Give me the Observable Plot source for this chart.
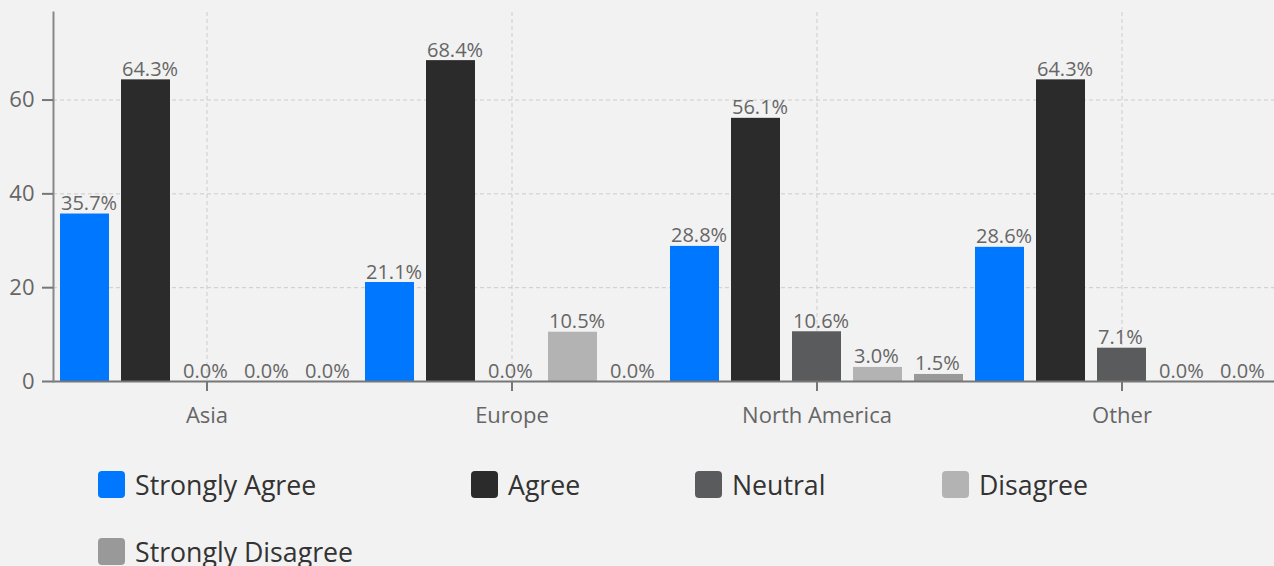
<!DOCTYPE html>
<html>
<head>
<meta charset="utf-8">
<script src="https://cdn.jsdelivr.net/npm/d3@7"></script>
<script src="https://cdn.jsdelivr.net/npm/@observablehq/plot@0.6"></script>
<style>
  html, body { margin: 0; padding: 0; background: #f2f2f2; font-family: "Open Sans", sans-serif; }
  #chart svg { display: block; }
  .legend { display: flex; flex-wrap: wrap; padding: 26px 0 0 98px; row-gap: 31px; box-sizing: border-box; width: 1274px; }
  .legend-item { display: flex; align-items: center; height: 36px; font-size: 26.7px; color: #333; }
  .legend-swatch { width: 27px; height: 27px; border-radius: 4px; margin-right: 10px; flex: none; }
</style>
</head>
<body>
<div id="chart"></div>
<div id="legend" class="legend"></div>
<script>
const regions = ["Asia", "Europe", "North America", "Other"];
const categories = ["Strongly Agree", "Agree", "Neutral", "Disagree", "Strongly Disagree"];
const stronglyAgree = [35.7, 21.1, 28.8, 28.6];
const agree = [64.3, 68.4, 56.1, 64.3];
const neutral = [0.0, 0.0, 10.6, 7.1];
const disagree = [0.0, 10.5, 3.0, 0.0];
const stronglyDisagree = [0.0, 0.0, 1.5, 0.0];
const yTicks = [0, 20, 40, 60];
const colors = ["#0077ff", "#2b2b2b", "#5a5b5d", "#b3b3b3", "#999999"];

const series = [stronglyAgree, agree, neutral, disagree, stronglyDisagree];
const key = (r, c) => r + "|" + c;
const data = [];
regions.forEach((r, i) => {
  categories.forEach((c, j) => {
    data.push({region: r, category: c, key: key(r, c), value: series[j][i]});
  });
});
const keys = data.map(d => d.key);
const centerKeys = regions.map(r => key(r, categories[2]));
const yMax = d3.max(data, d => d.value) * 1.15;

const chart = Plot.plot({
  width: 1274,
  height: 440,
  marginLeft: 53,
  marginRight: 0,
  marginTop: 12,
  marginBottom: 59,
  style: {background: "#f2f2f2", fontFamily: "Open Sans, sans-serif", overflow: "visible"},
  x: {domain: keys, paddingInner: 0.2, paddingOuter: 0.1, axis: null},
  y: {domain: [0, yMax], axis: null},
  color: {domain: categories, range: colors},
  marks: [
    Plot.gridY(yTicks.filter(t => t > 0), {stroke: "#cccccc", strokeOpacity: 1, strokeDasharray: "4,3", strokeWidth: 1}),
    Plot.gridX(centerKeys, {stroke: "#cccccc", strokeOpacity: 1, strokeDasharray: "4,3", strokeWidth: 1}),
    Plot.barY(data, {x: "key", y: "value", fill: "category"}),
    Plot.text(data, {x: "key", y: "value", text: d => d.value.toFixed(1) + "%", textAnchor: "start", lineAnchor: "bottom", dx: -24, dy: -4, fill: "#666", fontSize: 20}),
    Plot.ruleY([0], {stroke: "#777", strokeWidth: 2}),
    Plot.frame({anchor: "left", stroke: "#888", strokeWidth: 2}),
    Plot.axisY(yTicks, {tickSize: 11, tickPadding: 8, fontSize: 22, color: "#666", stroke: "#777", strokeWidth: 2, label: null}),
    Plot.axisX(centerKeys, {tickFormat: k => k.split("|")[0], tickSize: 10, tickPadding: 16, fontSize: 22, color: "#666", stroke: "#777", strokeWidth: 2, label: null})
  ]
});
document.getElementById("chart").appendChild(chart);

const itemWidths = {"Strongly Agree": 373, "Agree": 224, "Neutral": 247};
const legend = document.getElementById("legend");
categories.forEach((c, i) => {
  const item = document.createElement("div");
  item.className = "legend-item";
  if (itemWidths[c]) item.style.width = itemWidths[c] + "px";
  const sw = document.createElement("span");
  sw.className = "legend-swatch";
  sw.style.background = colors[i];
  const label = document.createElement("span");
  label.textContent = c;
  item.appendChild(sw);
  item.appendChild(label);
  legend.appendChild(item);
});
</script>
</body>
</html>
